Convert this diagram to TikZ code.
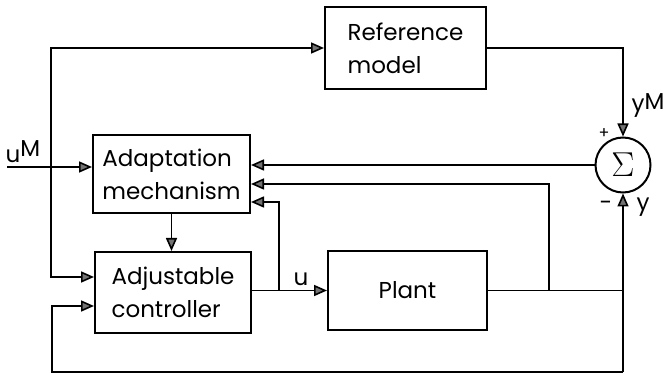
\documentclass[tikz,border=0pt]{standalone}
\usepackage{fontspec}
\setmainfont{Poppins}
\usetikzlibrary{arrows.meta}

\begin{document}
\begin{tikzpicture}[x=0.5pt,y=-0.5pt,
    font=\fontsize{11.5}{16.5}\selectfont,
    >={Triangle[length=6.5pt,width=5.5pt,fill=black!55]},
    every path/.style={line width=0.8pt},
    block/.style={draw, line width=1pt, align=left, inner sep=0pt}]
    \useasboundingbox (0,0) rectangle (667,373);

    % Blocks of the loop
    \node[block, minimum width=80.5pt, minimum height=41pt] (ref) at (405.5,48) {Reference\\model};
    \node[block, minimum width=78.5pt, minimum height=39pt] (adapt) at (171.5,174) {Adaptation\\mechanism};
    \node[block, minimum width=78pt, minimum height=40.5pt] (ctrl) at (173,292.5) {Adjustable\\controller};
    \node[block, minimum width=79.5pt, minimum height=39.5pt] (plant) at (407.5,290.5) {Plant};
    \node[draw, circle, line width=1pt, minimum size=27.5pt, inner sep=0pt] (sum) at (623,165) {\fontsize{17}{17}\selectfont$\Sigma$};

    % Branch points
    \coordinate (uin) at (7,167);
    \coordinate (ujoin) at (51,167);
    \coordinate (umech) at (279,290);
    \coordinate (ymech) at (549,290);
    \coordinate (ybot) at (623,372);
    \coordinate (lbot) at (52,372);

    % Reference input u^M
    \draw[->] (uin) -- (uin -| adapt.west);
    \draw[->] (ujoin) |- (ref.west);
    \draw[->] (ujoin) |- ([yshift=7.75pt]ctrl.west);

    % Reference model output to the sum
    \draw[->] (ref.east) -| (sum.north);

    % Error back to the adaptation mechanism
    \draw[->] (sum.west) -- (sum.west -| adapt.east);

    % Adaptation mechanism sets the controller
    \draw[->] (adapt.south) -- (adapt.south |- ctrl.north);

    % Control signal u
    \draw[->] (plant.west -| ctrl.east) -- (plant.west);
    \draw[->] (umech) |- ([yshift=-14pt]adapt.east);

    % Plant output y
    \draw (plant.east) -- (plant.east -| sum.south);
    \draw[->] (ybot) -- (sum.south);
    \draw[->] (ymech) |- ([yshift=-5pt]adapt.east);
    \draw[->] (ybot) -- (lbot) |- ([yshift=-6.75pt]ctrl.west);

    % Labels
    \node (uM) at (23,152) {u\raisebox{3pt}{M}};
    \node (yM) at (648,106) {y\raisebox{1pt}{M}};
    \node (plus) at (604,134) {\footnotesize +};
    \node (minus) at (606,206) {-};
    \node (ulab) at (301,279) {u};
    \node (ylab) at (643,207) {y};
\end{tikzpicture}
\end{document}
